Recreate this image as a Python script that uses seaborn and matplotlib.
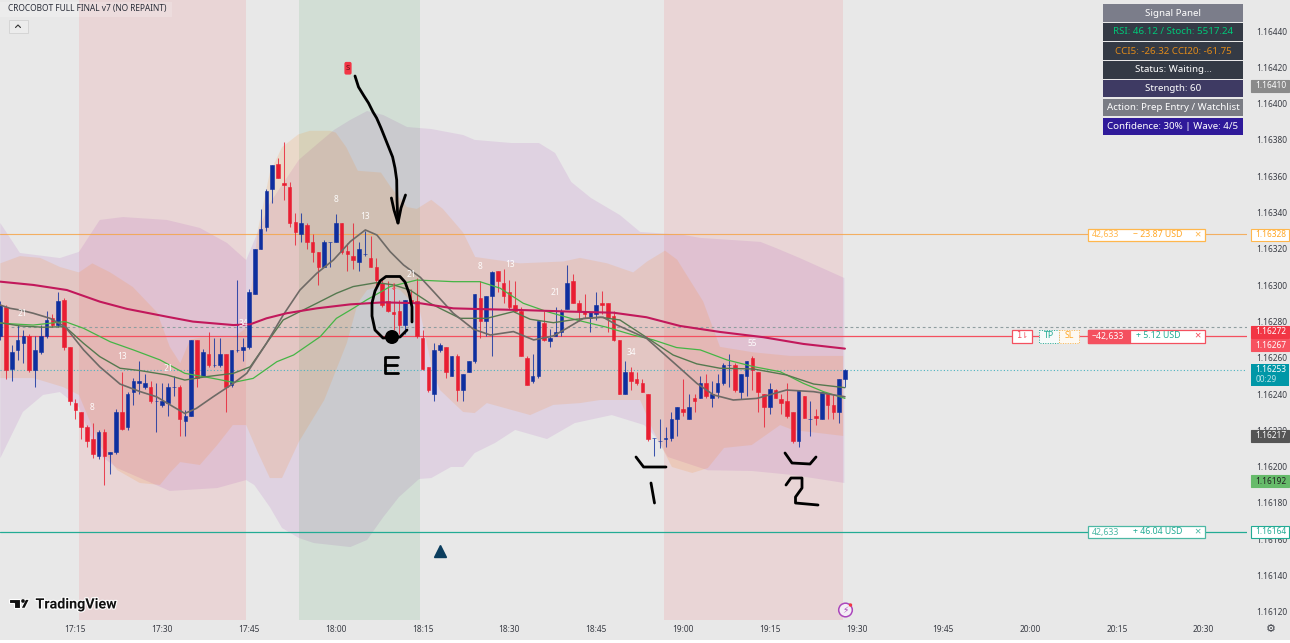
import matplotlib
matplotlib.use("Agg")
import matplotlib.pyplot as plt
import matplotlib.patheffects as pe
from matplotlib.patches import Rectangle, FancyBboxPatch, Circle, Polygon
from matplotlib.transforms import Affine2D
import numpy as np
import pandas as pd
import seaborn as sns

W, H = 1290, 643
BG = "#e8e8e8"
BASE, POINT = 1.16, 1e-5

# one-minute candles, in points above 1.16000, first candle 17:02 (minute -13 from 17:15)
open_pts = [272,288,254,264,268,272,253,263,272,282,278,292,266,235,230,222,215,206,219,207,208,230,222,241,246,244,244,236,234,235,244,244,225,228,270,250,262,256,256,262,245,264,264,266,295,320,332,353,367,356,354,335,328,333,324,318,310,324,324,334,319,316,313,317,315,310,301,291,285,286,278,292,291,271,255,
            240,264,266,250,261,242,252,258,293,280,294,308,301,296,289,286,260,247,250,279,269,272,274,287,302,290,286,282,284,290,290,283,270,240,252,248,246,240,216,214,215,216,226,232,226,238,238,246,238,241,246,256,256,241,250,260,252,240,233,242,237,236,230,214,239,226,228,226,240,234,230,248]
high_pts = [291,289,267,278,275,273,272,278,286,284,296,293,266,237,230,223,224,220,221,208,232,252,241,249,258,251,247,246,246,246,250,245,231,270,270,265,274,271,271,262,264,303,271,298,320,342,353,366,370,379,357,340,340,334,328,318,325,324,339,334,323,334,324,330,327,315,303,302,301,292,292,298,304,275,255,
            268,268,266,261,262,251,258,295,302,294,308,308,309,303,302,288,261,262,280,286,276,288,287,311,306,292,295,285,296,297,290,286,270,258,255,252,248,240,216,226,222,230,233,248,240,240,250,251,247,251,257,262,257,251,258,261,252,240,246,243,240,246,230,242,239,236,232,241,240,240,248,254]
low_pts  = [270,248,247,259,257,252,244,262,271,277,277,264,234,226,215,211,205,204,190,196,207,220,220,234,240,243,235,219,233,228,239,217,217,228,244,250,255,255,255,230,244,263,258,265,295,320,330,345,359,347,332,322,324,320,313,300,310,310,324,317,308,309,308,316,310,300,288,285,275,273,273,289,271,253,241,
            236,263,249,250,236,236,252,257,271,272,261,296,290,287,285,261,245,246,249,269,266,272,272,287,290,280,282,274,281,284,274,269,240,240,242,245,241,214,206,210,211,214,217,228,226,230,238,238,233,238,245,244,241,237,239,242,230,222,229,238,229,227,213,211,227,217,223,226,226,226,224,244]
close_pts= [289,253,263,270,272,253,264,272,281,278,291,266,236,231,222,214,207,219,206,208,230,221,240,247,247,246,236,236,236,244,244,226,228,270,249,263,256,256,262,244,264,264,266,296,320,331,352,366,359,355,334,329,334,324,318,310,324,324,334,318,317,314,320,317,310,303,289,286,284,278,292,290,272,254,242,
            264,267,252,261,242,251,258,295,280,294,307,302,294,288,286,261,245,250,280,270,271,274,286,301,290,286,284,285,289,289,282,270,240,252,247,246,241,215,216,214,216,226,233,230,233,236,246,239,240,246,256,256,242,251,258,253,241,233,243,238,235,228,214,242,227,226,227,241,234,230,248,253]

# moving averages: minute, points
ema_m  = [-13,-7.3,-1.5,4.2,8.9,15.8,20.3,27.3,30.2,33,36.5,41.7,47.5,53.2,59.6,65.3,71.1,76.8,85.5,93,98.7,104.5,111.4,118.9,125.8,133]
ema_p  = [301.9,300.1,297.3,290.9,286.9,282.6,279.9,278,278.4,281.7,284.5,287.2,289.4,290.5,290,287.2,286.7,286.3,285.4,284.8,282.3,277.5,274.2,271.3,267.6,265]
fast_m = [-13,-11.3,-9.6,-7.3,-4.4,-1.8,1.4,4.2,7.7,11.2,14,16.9,18.9,20.9,23.8,27.3,29.6,33,35.9,38.8,41.7,44.6,47.5,50.1,52.1,54.4,56.7,59.6,61.9,65.3,68.8,71.7,75.7,79.2,82.6,84.9,87.8,91.2,93.6,98.7,101.6,104.5,107.4,110.3,113.7,117.8,122.9,127.6,133]
fast_p = [289,287.2,286.3,284.5,281.7,277.1,264.3,255,245.5,241.3,238.5,233,229.3,232.1,238.5,245.9,251.4,267.9,283.5,297.3,306.5,313.9,324,330.4,327.6,318.4,311.1,304.3,296.4,284.5,275.7,272.5,274.4,269.8,272,276.2,281.7,282.3,278,270.7,262.4,254.2,245.9,239.5,236.7,237.6,242.2,241.3,238.5]
mid_m  = [-13,-9.6,-5.6,-1.8,1.4,4.2,7.7,11.2,15.8,18.9,22.7,27.3,30.2,33,35.9,38.8,41.7,45.1,48,52.1,55,57.8,61.3,63,66.5,71.1,75.7,78.6,82.6,86.6,90.7,94.1,98.7,103.3,107.4,111.4,117.2,122.9,127.6,133]
mid_p  = [279.3,277.5,276.8,277.1,267.9,260.6,254.2,252.9,250.5,247.7,249.6,251.4,255,267.9,280.8,285.4,290,295.5,299.2,301.4,300.1,297.3,290,287.2,281.7,281.7,285.4,281.2,279.3,281.2,282.3,280.8,271.2,261.5,256.6,254.2,253.8,250.5,245.5,243.5]
slow_m = [-13,-7.3,-1.8,1.4,6,10,14.6,18.9,23.8,27.3,30.7,34.8,37.7,42.3,45.1,48,50.3,54.4,59,65.3,69.9,73.4,77.4,81.5,86.6,91.8,96.4,99.9,103.9,108,112.6,117.2,121.8,125.8,129.3,133]
slow_p = [279,278,279.9,276.2,268.8,264.3,258.8,251.4,248.6,246.4,248.6,257.8,261.5,271.6,281.7,287.2,291.8,299.2,302.8,301.9,301.9,298.3,290,285.4,280.8,276.8,272.5,269.8,265.6,264.3,258.8,255.1,252.3,245.9,241.3,237.6]

# envelopes: minute, points
purple_up_m = [-13,-9.6,-2.7,0.6,4.2,8.2,15.8,21.5,26.2,29.5,33.6,35.7,38.6,41.6,44.7,47.5,50.4,53.2,57.3,61.5,67,69,75.3,80.1,82.9,85.7,89.1,94.1,97.6,105.2,108,118.4,121.1,125.2,132.9]
purple_up_p = [334.2,317.7,314.9,318.3,335.9,337.5,335.9,331.5,323.2,313.8,345.2,355.2,369,377.2,385.5,391,395.9,393.7,387.1,386,382.7,380,378.3,378.3,372.8,356.8,348,338.6,329.3,327.6,326,323.8,320.4,314.9,303.9]
purple_lo_m = [-13,-9.1,-5.6,-2.7,0.6,3.7,7.2,16.3,24.5,29.5,30.9,33.6,35.7,38.6,41.2,47.5,50.4,53.2,55.9,59.4,61.5,64.9,67,69,72.5,76,81.5,86.3,92.7,98.3,100.3,102.4,109.3,116.9,124,132.9]
purple_lo_p = [204.7,230.1,239.5,241.1,232.8,207.5,199.2,186.6,188.2,192.6,189.9,177.7,166.2,160.7,157.9,155.7,159.6,172.2,183.2,193.2,193.7,199.8,199.8,207.5,213,220.2,215.2,224,228.4,222.9,216.3,205.3,198,197.6,195.4,191]
orange_up_m = [-13,-9.6,-6.1,-2.7,0.6,2.9,6,9.9,14.1,16.3,18.1,19.8,21.5,27.2,29.8,30.2,31.5,33.6,35.7,38.5,40.5,44,45,46.8,48.8,52.8,54.5,57.3,59,61.5,63.5,67,69.1,76.8,84.3,87.2,91.9,96.4,98.8,101.9,104,108.5,111.4,117.1,123.5,132.7]
orange_up_p = [312,316,315,310,307,312,307,299,285,266,257,270,271,271,277,292,330,362,376,383,385,385,384,376,363,362,354,343,342,347,342,329,315.5,312,313,315,312,307,313,319,314,291,266,263,261,261]
orange_lo_m = [-13,-7.3,-2.2,0.6,4.2,7.2,11.1,14.6,16.3,18.1,21.5,24.5,27.2,29.5,31.5,33.6,35.7,38.6,43,46.9,48.8,50.4,53.5,56.1,59.5,61.8,63,67,69,71.1,78.6,82.6,87.2,90.7,97.6,99.8,103.1,106.6,109.3,112.1,116.9,121.8,124,132.7]
orange_lo_p = [248.8,248.8,243.9,239.5,211.9,198.1,191,189.9,196.5,202.5,200.9,211.9,222.9,222.9,208,193.7,193.7,213.6,236.7,268.1,290.1,297.3,300,297.3,286.3,251.6,242.2,230.1,229.5,235,228.4,234,235,236.7,236.7,220.2,199.8,196.5,199.2,210.3,211.9,222.9,220.2,216.9]

# session shading: start and end minute
pink_spans = [(0.6, 29.5), (101.7, 132.7)]
green_spans = [(38.6, 59.6)]

wave_m = [-9.2,8,2.9,16,29,45,50,58,69.9,75.1,82.9,96,117]
wave_p = [284.6,260.4,232.3,254.3,279.1,346.9,338,306.1,310,311.1,296.2,263.1,268.1]
wave_t = ["21","13","8","21","34","8","13","21","8","13","21","34","55"]

time_ticks = [0,15,30,45,60,75,90,105,120,135,150,165,180,195]
time_labels = ["17:15","17:30","17:45","18:00","18:15","18:30","18:45","19:00","19:15","19:30","19:45","20:00","20:15","20:30"]
bold_labels = ["18:00","19:00","20:00"]
price_ticks = [120,140,160,180,200,220,240,260,280,300,320,340,360,380,400,420,440]

tp_pts, entry_pts, sl_pts, last_pts, avg_pts = 164, 272, 328, 253, 277

panel_rows = ["Signal Panel","RSI: 46.12 / Stoch: 5517.24","CCI5: -26.32 CCI20: -61.75","Status: Waiting...","Strength: 60","Action: Prep Entry / Watchlist","Confidence: 30% | Wave: 4/5"]
panel_bg = ["#7b7d8a","#343a45","#343a45","#343a45","#3e3a63","#7a7c84","#2f1a9a"]
panel_fg = ["#ffffff","#00c878","#e08a1a","#ffffff","#ffffff","#ffffff","#ffffff"]

price_tags = [("1.16410",86,"#8a8a8a","#ffffff","#8a8a8a"),
              ("1.16328",234.5,"#ffffff","#ffa726","#ffb74d"),
              ("1.16272",332,"#f23645","#ffffff","#f23645"),
              ("1.16267",345,"#f7525f","#ffffff","#f7525f"),
              ("1.16217",436,"#555555","#ffffff","#555555"),
              ("1.16192",481,"#66bb6a","#222222","#66bb6a"),
              ("1.16164",532,"#ffffff","#22ab94","#22ab94")]

sns.set_theme(style="white", rc={"axes.facecolor": BG, "figure.facecolor": BG})
plt.rcParams["font.family"] = ["Noto Sans", "DejaVu Sans"]

def price(p):
    return BASE + np.asarray(p, dtype=float) * POINT

df = pd.DataFrame({"minute": np.arange(len(open_pts)) - 13,
                   "open": price(open_pts), "high": price(high_pts),
                   "low": price(low_pts), "close": price(close_pts)})
df["up"] = df["close"] >= df["open"]

fig = plt.figure(figsize=(W / 100, H / 100), dpi=100)
ax = fig.add_axes([0, 1 - 620 / H, 1247 / W, 620 / H])
ax.set_xlim(-13.05, 202.5)
ax.set_ylim(price(115.5), price(457.08))
px = Affine2D().scale(1, -1).translate(0, H)

# shading
for a, b in pink_spans:
    ax.axvspan(a, b, color="#f23645", alpha=0.105, lw=0, zorder=1)

# envelopes
ax.fill(purple_up_m + purple_lo_m[::-1], price(purple_up_p + purple_lo_p[::-1]), color="#9c27b0", alpha=0.115, lw=0, zorder=1.2)
for a, b in green_spans:
    ax.axvspan(a, b, color="#008020", alpha=0.095, lw=0, zorder=1.25)
ax.fill(orange_up_m + orange_lo_m[::-1], price(orange_up_p + orange_lo_p[::-1]), color="#ff7a00", alpha=0.13, lw=0, zorder=1.3)

# horizontal levels
ax.axhline(price(sl_pts), color="#f5a54a", lw=0.8, alpha=0.85, zorder=1.5)
ax.axhline(price(entry_pts), color="#f4505f", lw=0.9, zorder=1.5)
ax.axhline(price(tp_pts), color="#22ab94", lw=0.9, zorder=1.5)
ax.axhline(price(avg_pts), color="#8f9ea0", lw=0.8, ls=(0, (2.5, 2.5)), zorder=1.5)
ax.axhline(price(last_pts), color="#4bb3c0", lw=0.8, ls=(0, (1, 2)), zorder=1.5)

# candles
RED, BLUE = "#e91e32", "#0e2f9f"
for up, col in ((True, BLUE), (False, RED)):
    d = df[df["up"] == up]
    ax.vlines(d["minute"], d["low"], d["high"], color=col, lw=0.75, alpha=0.8, zorder=2)
    ax.bar(d["minute"], (d["close"] - d["open"]).abs(), bottom=d[["open", "close"]].min(axis=1),
           width=0.62, color=col, edgecolor=col, lw=0.4, zorder=2.1)

# moving averages
line_spec = [(slow_m, slow_p, "#45b545", 0.9), (mid_m, mid_p, "#55794f", 1.0),
             (fast_m, fast_p, "#6e6a66", 1.2), (ema_m, ema_p, "#c2185b", 1.5)]
for m, p, col, lw in line_spec:
    sns.lineplot(x=m, y=price(p), color=col, lw=lw, ax=ax, legend=False, estimator=None, sort=False, zorder=2.3)

# wave numbers
for m, p, t in zip(wave_m, wave_p, wave_t):
    ax.text(m, price(p), t, color="#ffffff", fontsize=6, ha="center", va="center", zorder=2.4, alpha=0.95, fontweight="bold")

# signal markers
ax.plot([63], [price(153.5)], marker="^", ms=8.5, color="#0b3d5e", ls="none", zorder=3)
ax.add_patch(FancyBboxPatch((345, 62.5), 6, 11.5, boxstyle="round,pad=0.6,rounding_size=1.8", transform=px, fc="#f23645", ec="none", zorder=3, clip_on=False))
ax.text(348, 68, "S", transform=px, color="#5a1018", fontsize=5.5, ha="center", va="center", zorder=3.1)
ax.text(393, 288, "↓", transform=px, color="#f4505f", fontsize=6.5, ha="center", va="center", zorder=3.1, family=["DejaVu Sans"])

# axes styling
for s in ax.spines.values():
    s.set_visible(False)
ax.yaxis.tick_right()
ax.set_yticks(price(price_ticks))
ax.set_yticklabels([f"{BASE + t * POINT:.5f}" for t in price_ticks])
ax.set_xticks(time_ticks)
ax.set_xticklabels(time_labels)
ax.tick_params(axis="both", length=0, labelsize=6, labelcolor="#3a3d45")
ax.tick_params(axis="y", pad=7)
ax.tick_params(axis="x", pad=3.5)
for t in ax.get_xticklabels():
    if t.get_text() in bold_labels:
        t.set_fontweight("bold")

def rect(x0, y0, x1, y1, fc, ec="none", lw=0, z=6, ls="-", alpha=None):
    ax.add_patch(Rectangle((x0, y0), x1 - x0, y1 - y0, transform=px, fc=fc, ec=ec, lw=lw, zorder=z, clip_on=False, ls=ls, alpha=alpha))

def txt(x, y, s, col, fs=6, ha="center", z=7, **kw):
    return ax.text(x, y, s, transform=px, color=col, fontsize=fs, ha=ha, va="center", zorder=z, clip_on=False, **kw)

# signal panel
row_y = [(4, 22), (23, 41), (42, 60), (61, 79), (80, 97), (99, 116), (118, 135)]
for (y0, y1), s, bg, fg in zip(row_y, panel_rows, panel_bg, panel_fg):
    rect(1103, y0, 1243, y1, bg)
    txt(1173, (y0 + y1) / 2, s, fg, fs=7)

# order boxes
def order(y0, y1, col, qty, pnl, pnl_col, filled=False):
    rect(1087.5, y0, 1204.5, y1, "#ffffff", ec=col, lw=0.9)
    if filled:
        rect(1087.5, y0, 1130, y1, col, ec=col, lw=0.9, z=6.1)
        txt(1108, (y0 + y1) / 2, qty, "#ffffff", fs=6.3)
    else:
        txt(1106, (y0 + y1) / 2, qty, col, fs=6.3)
    txt(1158, (y0 + y1) / 2, pnl, pnl_col, fs=6.3)
    txt(1197, (y0 + y1) / 2, "×", col, fs=8)

order(228.5, 240.5, "#ffb74d", "42,633", "− 23.87 USD", "#ffa726")
order(329.5, 342.5, "#f4505f", "−42,633", "+ 5.12 USD", "#22ab94", filled=True)
order(526, 538, "#4cb8a4", "42,633", "+ 46.04 USD", "#22ab94")

rect(1012, 329.5, 1032, 342.5, "#ffffff", ec="#f4505f", lw=0.9)
txt(1022, 336, "1⇂", "#f4505f", fs=6, family=["DejaVu Sans"])
rect(1039, 329.5, 1059, 342.5, "#f6fbfa", ec="#22ab94", lw=0.7, ls=(0, (1, 1.5)))
rect(1059, 329.5, 1079, 342.5, "#fdf9f2", ec="#ffb74d", lw=0.7, ls=(0, (1, 1.5)))
txt(1049, 336, "TP", "#22ab94", fs=6.3)
txt(1069, 336, "SL", "#ffa726", fs=6.3)

# right-hand price tags
for s, y, bg, fg, ec in price_tags:
    rect(1251, y - 6, 1289, y + 6, bg, ec=ec, lw=0.8)
    txt(1271, y, s, fg, fs=6)
rect(1251, 364, 1289, 386, "#0097a7")
txt(1271, 370, "1.16253", "#ffffff", fs=6)
txt(1266, 380, "00:29", "#b7e3e8", fs=6)

# title strip and collapse button
rect(0, 2, 172, 17, "#ffffff", alpha=0.18, z=5)
txt(8, 9, "CROCOBOT FULL FINAL v7 (NO REPAINT)", "#2a2e39", fs=6, ha="left")
rect(8.5, 19.5, 27.5, 33, "#ececec", ec="#d5d5d5", lw=0.7)
ax.plot([15.5, 18, 20.5], [27.5, 25, 27.5], transform=px, color="#333333", lw=0.8, zorder=7, clip_on=False)

# logo
halo = [pe.withStroke(linewidth=1.6, foreground="#ffffff")]
for poly in ([(9.3, 599.3), (20, 599.3), (20, 608.3), (14.3, 608.3), (14.3, 602.7), (9.3, 602.7)],
             [(21, 608.3), (25.5, 599.3), (29.5, 599.3), (25, 608.3)]):
    ax.add_patch(Polygon(poly, transform=px, fc="#111111", ec="#ffffff", lw=0.8, zorder=7, clip_on=False))
ax.add_patch(Circle((23, 601), 1.8, transform=px, fc="#111111", ec="none", zorder=7.1, clip_on=False))
txt(35.5, 604.5, "TradingView", "#111111", fs=10.3, ha="left", fontweight="bold", family=["Roboto"], path_effects=halo)

# bolt icon, gear
ax.add_patch(Circle((845.5, 610), 6.8, transform=px, fc="#f4eef6", ec="#ab47bc", lw=1.1, zorder=7, clip_on=False))
txt(845.5, 610, "⚡", "#ab47bc", fs=6.5, family=["DejaVu Sans"])
ax.add_patch(Circle((850.5, 605), 1.7, transform=px, fc="#f23645", ec="none", zorder=7.1, clip_on=False))
txt(1271, 628.5, "⚙", "#3a3d45", fs=8, family=["DejaVu Sans"])

# hand-drawn notes
scribbles = [
    [(355,76),(358.5,87),(364,96),(368.5,103),(373,112),(376.6,118),(381,128),(384.6,137),(389,148),(392.6,157),(395,168),(396.7,180),(397,200),(398,223)],
    [(391.4,198),(394,210),(398,223),(401,208),(405.5,195)],
    [(412,322),(412,307),(409,293),(405,282),(400,276.5),(386,276.5),(380,281),(375,291),(372,303),(372,316),(375,330),(383,338),(400,337),(407,330)],
    [(398,357),(385,357),(385,373),(398,373)],[(385,365),(397,365)],
    [(636,457),(643.6,467),(666,467)],[(651,483),(654.5,503)],
    [(785,453),(792,463),(810,464),(816,457)],
    [(786,485),(791,478),(802,478),(802,488),(795.5,497),(795.5,503),(818,505)],
]
for s in scribbles:
    xs, ys = zip(*s)
    ax.plot(xs, ys, transform=px, color="#000000", lw=2.0, zorder=4, clip_on=False, solid_capstyle="round", solid_joinstyle="round")
ax.add_patch(Circle((392, 337), 7, transform=px, fc="#000000", ec="none", zorder=4, clip_on=False))

# white strip at the bottom
rect(0, 640, W, H, "#ffffff", z=8)

fig.savefig("out.png", dpi=100, facecolor=BG)
